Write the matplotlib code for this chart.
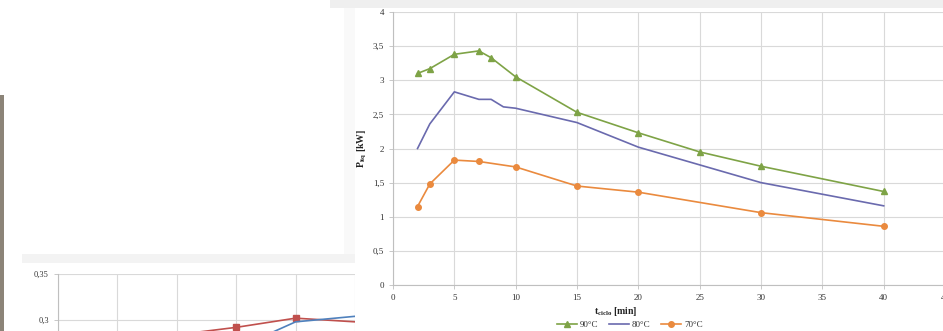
import matplotlib
matplotlib.use("Agg")
import matplotlib.pyplot as plt
from matplotlib.patches import Rectangle
from matplotlib.ticker import FuncFormatter

# main chart data
t_90 = [2, 3, 5, 7, 8, 10, 15, 20, 25, 30, 40]
p_90 = [3.10, 3.17, 3.38, 3.43, 3.33, 3.05, 2.53, 2.23, 1.95, 1.74, 1.37]
t_80 = [2, 3, 5, 7, 8, 9, 10, 15, 20, 25, 30, 40]
p_80 = [2.00, 2.36, 2.83, 2.72, 2.72, 2.61, 2.59, 2.38, 2.02, 1.76, 1.50, 1.16]
t_70 = [2, 3, 5, 7, 10, 15, 20, 30, 40]
p_70 = [1.15, 1.48, 1.83, 1.81, 1.73, 1.45, 1.36, 1.06, 0.86]
labels = ["90°C", "80°C", "70°C"]

# partially hidden chart behind it
bg_x_red = [2, 3, 4, 5]
bg_y_red = [0.284, 0.292, 0.302, 0.298]
bg_x_blue = [3, 4, 5]
bg_y_blue = [0.269, 0.298, 0.304]

plt.rcParams["font.family"] = ["Liberation Serif", "DejaVu Serif"]
plt.rcParams["mathtext.fontset"] = "custom"
plt.rcParams["mathtext.rm"] = "Liberation Serif"
plt.rcParams["mathtext.bf"] = "Liberation Serif:bold"

W, H = 943, 331
fig = plt.figure(figsize=(W / 100, H / 100), dpi=100)
fig.patch.set_facecolor("white")


def px(x0, y0, x1, y1):
    # pixel box -> figure coords
    return [x0 / W, 1 - y1 / H, (x1 - x0) / W, (y1 - y0) / H]


def rect(x0, y0, x1, y1, color):
    fig.patches.append(Rectangle((x0 / W, 1 - y1 / H), (x1 - x0) / W, (y1 - y0) / H,
                                 transform=fig.transFigure, color=color, zorder=-5, lw=0))


# screenshot background bits
rect(0, 95, 4, H, "#8c8478")
rect(22, 254, 355, 263, "#f3f3f3")
rect(330, 0, W, 8, "#efefef")
rect(344, 8, 355, 254, "#f9f9f9")

gray = "#d9d9d9"
comma = FuncFormatter(lambda v, p: f"{v:g}".replace(".", ","))

# background chart
ax2 = fig.add_axes(px(58, 274, 355, 366))
ax2.set_xlim(0, 5)
ax2.set_ylim(0.25, 0.35)
ax2.set_facecolor("white")
ax2.plot(bg_x_red, bg_y_red, color="#c0504d", marker="s", ms=4, lw=1.2, markevery=[0, 1, 2])
ax2.plot(bg_x_blue, bg_y_blue, color="#4f81bd", lw=1.2)
ax2.set_yticks([0.3, 0.35])
ax2.set_xticks(range(6))
ax2.set_xticklabels([])
ax2.yaxis.set_major_formatter(comma)
ax2.grid(True, color=gray, lw=0.8)
ax2.tick_params(axis="y", labelsize=6, colors="#bfbfbf", length=3, width=0.6, labelcolor="#333333")
ax2.tick_params(axis="x", length=0)
for s in ax2.spines.values():
    s.set_visible(False)
ax2.spines["left"].set_visible(True)
ax2.spines["left"].set_color("#bfbfbf")
ax2.set_axisbelow(True)

# main chart
ax = fig.add_axes(px(393, 12, 945, 285))
ax.set_facecolor("white")
ax.plot(t_90, p_90, color="#7ea346", marker="^", ms=4, lw=1.2, label=labels[0])
ax.plot(t_80, p_80, color="#6a6aae", lw=1.2, label=labels[1])
ax.plot(t_70, p_70, color="#ea8a3e", marker="o", ms=4, lw=1.2, label=labels[2])
ax.set_xlim(0, 45)
ax.set_ylim(0, 4)
ax.set_xticks(range(0, 46, 5))
ax.set_yticks([0, 0.5, 1, 1.5, 2, 2.5, 3, 3.5, 4])
ax.yaxis.set_major_formatter(comma)
ax.grid(True, color=gray, lw=0.8)
ax.set_axisbelow(True)
ax.tick_params(labelsize=6.5, colors="#bfbfbf", labelcolor="#333333", length=3, width=0.6)
for s in ["top", "right"]:
    ax.spines[s].set_visible(False)
for s in ["left", "bottom"]:
    ax.spines[s].set_color("#bfbfbf")
ax.set_ylabel(r"$\mathbf{P_{liq}}$ [kW]", fontsize=7, fontweight="bold", color="#222222", labelpad=3)
ax.set_xlabel(r"$\mathbf{t_{ciclo}}$ [min]", fontsize=7, fontweight="bold", color="#222222", labelpad=4)
ax.xaxis.set_label_coords(0.404, -0.075)

leg = fig.legend(loc="center", bbox_to_anchor=(630 / W, 1 - 325 / H), ncol=3, frameon=False,
                 fontsize=6.5, handlelength=2.2, columnspacing=1.2, handletextpad=0.3)
for t in leg.get_texts():
    t.set_color("#333333")

fig.savefig("out.png", dpi=100)
